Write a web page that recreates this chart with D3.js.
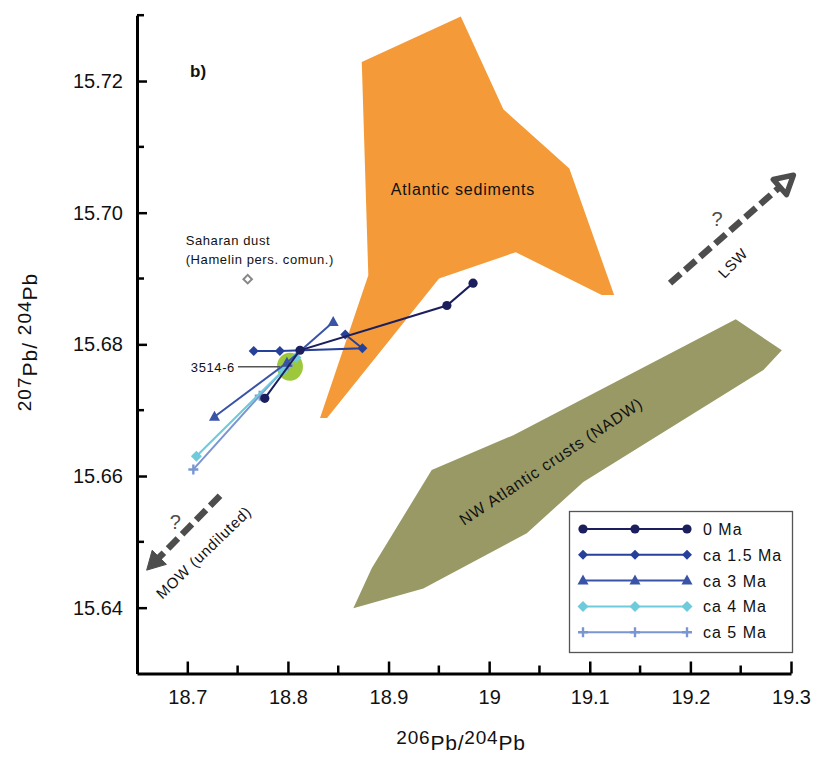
<!DOCTYPE html>
<html>
<head>
<meta charset="utf-8">
<script src="https://cdn.jsdelivr.net/npm/d3@7/dist/d3.min.js"></script>
<style>
  html, body { margin: 0; padding: 0; background: #fff; }
  svg { display: block; font-family: "Liberation Sans", Arial, sans-serif; }
</style>
</head>
<body>
<svg id="chart" width="814" height="759"></svg>
<script>
// ---------- DATA ----------
const xTickLabels = ["18.7", "18.8", "18.9", "19", "19.1", "19.2", "19.3"];
const xMinorTicks = [18.75, 18.85, 18.95, 19.05, 19.15, 19.25];
const yTickLabels = ["15.64", "15.66", "15.68", "15.70", "15.72"];
const yMinorTicks = [15.65, 15.67, 15.69, 15.71, 15.73];

const seriesNames = ["0 Ma", "ca 1.5 Ma", "ca 3 Ma", "ca 4 Ma", "ca 5 Ma"];
const seriesColors = ["#1c1f5e", "#27419b", "#3954a6", "#6dcbdc", "#7a96d2"];
const seriesSymbols = ["circle", "diamond", "triangle", "diamondL", "plus"];

const ma0X = [18.777, 18.812, 18.958, 18.984];
const ma0Y = [15.6718, 15.6791, 15.6859, 15.6893];
const ma15X = [18.766, 18.792, 18.874, 18.857];
const ma15Y = [15.6790, 15.6790, 15.6794, 15.6815];
const ma3X = [18.727, 18.799, 18.845];
const ma3Y = [15.6690, 15.6772, 15.6834];
const ma4X = [18.709, 18.795, 18.808];
const ma4Y = [15.6630, 15.6760, 15.6780];
const ma5X = [18.706, 18.772, 18.800];
const ma5Y = [15.6610, 15.6722, 15.6768];

const dustX = [18.760];
const dustY = [15.6899];
const sampleX = [18.802];
const sampleY = [15.6766];

// Atlantic sediments field
const sedX = [18.9718, 19.0141, 19.0797, 19.1242, 19.1119, 19.0264, 18.9502, 18.8389, 18.8319, 18.8799, 18.8734];
const sedY = [15.7298, 15.7157, 15.7067, 15.6875, 15.6875, 15.6940, 15.6900, 15.6688, 15.6688, 15.6905, 15.7229];
// NW Atlantic crusts (NADW) field
const crustX = [19.2451, 19.2909, 19.2726, 19.0936, 19.0374, 18.9346, 18.8650, 18.8833, 18.9429, 19.0240];
const crustY = [15.6838, 15.6791, 15.6761, 15.6591, 15.6513, 15.6429, 15.6399, 15.6460, 15.6609, 15.6662];

// arrows (start -> tip)
const mowArrowX = [18.7325, 18.6596];
const mowArrowY = [15.6570, 15.6457];
const lswArrowX = [19.1798, 19.3024];
const lswArrowY = [15.6893, 15.7057];

// ---------- CHART ----------
const svg = d3.select("#chart");
const x = d3.scaleLinear().domain([18.65, 19.3]).range([137, 791]);
const y = d3.scaleLinear().domain([15.63, 15.73]).range([673.5, 15.2]);

const zip = (a, b) => a.map((v, i) => [v, b[i]]);
const line = d3.line().x(d => x(d[0])).y(d => y(d[1]));

// fields
svg.append("path").attr("d", line(zip(sedX, sedY)) + "Z").attr("fill", "#f59a38");
svg.append("path").attr("d", line(zip(crustX, crustY)) + "Z").attr("fill", "#999966");

svg.append("text").attr("x", x(18.974)).attr("y", y(15.7027))
  .attr("text-anchor", "middle").attr("font-size", 16).attr("letter-spacing", 0.8)
  .attr("fill", "#111").text("Atlantic sediments");

{
  const cx = x(19.0645), cy = y(15.6615);
  svg.append("text").attr("transform", `translate(${cx},${cy}) rotate(-33.6)`)
    .attr("text-anchor", "middle").attr("font-size", 16).attr("letter-spacing", 0.9)
    .attr("fill", "#111").text("NW Atlantic crusts (NADW)");
}

// arrows
function drawArrow(xs, ys, hollow) {
  const x0 = x(xs[0]), y0 = y(ys[0]), x1 = x(xs[1]), y1 = y(ys[1]);
  const ang = Math.atan2(y1 - y0, x1 - x0);
  const hl = 18, hw = 10;
  const bx = x1 - hl * Math.cos(ang), by = y1 - hl * Math.sin(ang);
  svg.append("line").attr("x1", x0).attr("y1", y0).attr("x2", bx).attr("y2", by)
    .attr("stroke", "#4d4d4d").attr("stroke-width", 6.5).attr("stroke-dasharray", "14,6");
  const px = -Math.sin(ang), py = Math.cos(ang);
  const pts = [[x1, y1], [bx + px * hw, by + py * hw], [bx - px * hw, by - py * hw]];
  svg.append("path").attr("d", "M" + pts.map(p => p.join(",")).join("L") + "Z")
    .attr("fill", hollow ? "#fff" : "#4d4d4d").attr("stroke", "#4d4d4d")
    .attr("stroke-width", hollow ? 5.5 : 1).attr("stroke-linejoin", "round");
}
drawArrow(mowArrowX, mowArrowY, false);
drawArrow(lswArrowX, lswArrowY, true);

svg.append("text").attr("x", x(18.688)).attr("y", y(15.6519)).attr("text-anchor", "middle")
  .attr("font-size", 20).attr("fill", "#4d4d4d").text("?");
svg.append("text").attr("x", x(19.2265)).attr("y", y(15.6980)).attr("text-anchor", "middle")
  .attr("font-size", 20).attr("fill", "#4d4d4d").text("?");
svg.append("text").attr("transform", `translate(${x(18.72)},${y(15.6478)}) rotate(-44)`)
  .attr("text-anchor", "middle").attr("font-size", 15).attr("letter-spacing", 0.8)
  .attr("fill", "#111").text("MOW (undiluted)");
svg.append("text").attr("transform", `translate(${x(19.246)},${y(15.6918)}) rotate(-46)`)
  .attr("text-anchor", "middle").attr("font-size", 15).attr("letter-spacing", 0.8)
  .attr("fill", "#111").text("LSW");

// sample 3514-6 ellipse
svg.append("ellipse").attr("cx", x(sampleX[0])).attr("cy", y(sampleY[0]))
  .attr("rx", 13).attr("ry", 14).attr("fill", "#9dc83b");
svg.append("line").attr("x1", x(sampleX[0]) - 52).attr("x2", x(sampleX[0]) - 10)
  .attr("y1", y(sampleY[0])).attr("y2", y(sampleY[0]))
  .attr("stroke", "#555").attr("stroke-width", 1.5);
svg.append("text").attr("x", x(sampleX[0]) - 55).attr("y", y(sampleY[0]) + 5)
  .attr("text-anchor", "end").attr("font-size", 13).attr("letter-spacing", 0.6)
  .attr("fill", "#111").text("3514-6");

// Saharan dust
svg.append("path").attr("transform", `translate(${x(dustX[0])},${y(dustY[0])}) rotate(45)`)
  .attr("d", "M-3,-3h6v6h-6Z").attr("fill", "#fff").attr("stroke", "#888").attr("stroke-width", 2);
svg.append("text").attr("x", x(dustX[0]) - 62).attr("y", y(dustY[0]) - 34)
  .attr("font-size", 13).attr("letter-spacing", 0.6).attr("fill", "#111").text("Saharan dust");
svg.append("text").attr("x", x(dustX[0]) - 62).attr("y", y(dustY[0]) - 15)
  .attr("font-size", 13).attr("letter-spacing", 0.6).attr("fill", "#111").text("(Hamelin pers. comun.)");

// series
function marker(g, type, color, px, py) {
  if (type === "circle") {
    g.append("circle").attr("cx", px).attr("cy", py).attr("r", 4.6).attr("fill", color);
  } else if (type === "diamond" || type === "diamondL") {
    const s = type === "diamond" ? 5 : 5.5;
    g.append("path").attr("d", `M0,${-s}L${s},0L0,${s}L${-s},0Z`).attr("transform", `translate(${px},${py})`).attr("fill", color);
  } else if (type === "triangle") {
    g.append("path").attr("d", "M0,-6L5.5,4L-5.5,4Z").attr("transform", `translate(${px},${py})`).attr("fill", color);
  } else if (type === "plus") {
    g.append("path").attr("d", `M${px - 5},${py}H${px + 5}M${px},${py - 5}V${py + 5}`)
      .attr("stroke", color).attr("stroke-width", 2.4);
  }
}
const allSeries = [[ma0X, ma0Y], [ma15X, ma15Y], [ma3X, ma3Y], [ma4X, ma4Y], [ma5X, ma5Y]];
const drawOrder = [4, 3, 2, 1, 0];
drawOrder.forEach(i => {
  const g = svg.append("g");
  const pts = zip(allSeries[i][0], allSeries[i][1]);
  g.append("path").attr("d", line(pts)).attr("fill", "none")
    .attr("stroke", seriesColors[i]).attr("stroke-width", 2);
  pts.forEach(p => marker(g, seriesSymbols[i], seriesColors[i], x(p[0]), y(p[1])));
});

// axes
const tickFont = "'Liberation Sans', Arial, sans-serif";
const fs = 20;
const xAxis = d3.axisBottom(x).tickValues(xTickLabels.map(Number))
  .tickFormat((d, i) => xTickLabels[i]).tickSize(-12).tickSizeOuter(0).tickPadding(16);
const gx = svg.append("g").attr("transform", `translate(0,${y(15.63)})`).call(xAxis);
gx.selectAll(".tick line").attr("stroke", "#000").attr("stroke-width", 2.5);
gx.selectAll(".tick text").attr("font-size", fs).attr("font-family", tickFont).attr("fill", "#111");
gx.select(".domain").attr("stroke", "#000").attr("stroke-width", 3);
gx.selectAll(".minor").data(xMinorTicks).enter().append("line").attr("class", "minor")
  .attr("x1", d => x(d)).attr("x2", d => x(d)).attr("y1", 0).attr("y2", -8)
  .attr("stroke", "#000").attr("stroke-width", 2.5);

const yAxis = d3.axisLeft(y).tickValues(yTickLabels.map(Number))
  .tickFormat((d, i) => yTickLabels[i]).tickSize(-10).tickSizeOuter(0).tickPadding(14);
const gy = svg.append("g").attr("transform", `translate(${x(18.65)},0)`).call(yAxis);
gy.selectAll(".tick line").attr("stroke", "#000").attr("stroke-width", 2.5);
gy.selectAll(".tick text").attr("font-size", fs).attr("font-family", tickFont).attr("fill", "#111");
gy.select(".domain").attr("stroke", "#000").attr("stroke-width", 3);
gy.selectAll(".minor").data(yMinorTicks).enter().append("line").attr("class", "minor")
  .attr("x1", 0).attr("x2", 7).attr("y1", d => y(d)).attr("y2", d => y(d))
  .attr("stroke", "#000").attr("stroke-width", 2.5);

// axis titles
function isoTitle(t, parts) {
  parts.forEach(p => {
    t.append("tspan").attr("font-size", p.sup ? 19 : 21)
      .attr("baseline-shift", p.sup ? "6" : "0").text(p.s);
  });
}
const xt = svg.append("text").attr("x", 461).attr("y", 750).attr("text-anchor", "middle")
  .attr("fill", "#111").attr("letter-spacing", 0.8).attr("font-family", tickFont);
isoTitle(xt, [{s: "206", sup: true}, {s: "Pb/"}, {s: "204", sup: true}, {s: "Pb"}]);
const yt = svg.append("text").attr("transform", "translate(37,342) rotate(-90)").attr("text-anchor", "middle")
  .attr("fill", "#111").attr("letter-spacing", 1).attr("font-family", tickFont);
isoTitle(yt, [{s: "207", sup: true}, {s: "Pb/ "}, {s: "204", sup: true}, {s: "Pb"}]);

svg.append("text").attr("x", 190).attr("y", 77).attr("font-size", 17).attr("font-weight", "bold")
  .attr("fill", "#111").text("b)");

// legend
const lg = svg.append("g");
lg.append("rect").attr("x", 569.5).attr("y", 511.5).attr("width", 223).attr("height", 141)
  .attr("fill", "#fff").attr("stroke", "#555").attr("stroke-width", 1.3);
seriesNames.forEach((name, i) => {
  const ry = 529 + i * 25.8;
  lg.append("line").attr("x1", 583).attr("x2", 687).attr("y1", ry).attr("y2", ry)
    .attr("stroke", seriesColors[i]).attr("stroke-width", 2);
  [583, 635, 687].forEach(mx => marker(lg, seriesSymbols[i], seriesColors[i], mx, ry));
  lg.append("text").attr("x", 703).attr("y", ry + 6).attr("font-size", 16).attr("letter-spacing", 1)
    .attr("fill", "#111").text(name);
});
</script>
</body>
</html>
